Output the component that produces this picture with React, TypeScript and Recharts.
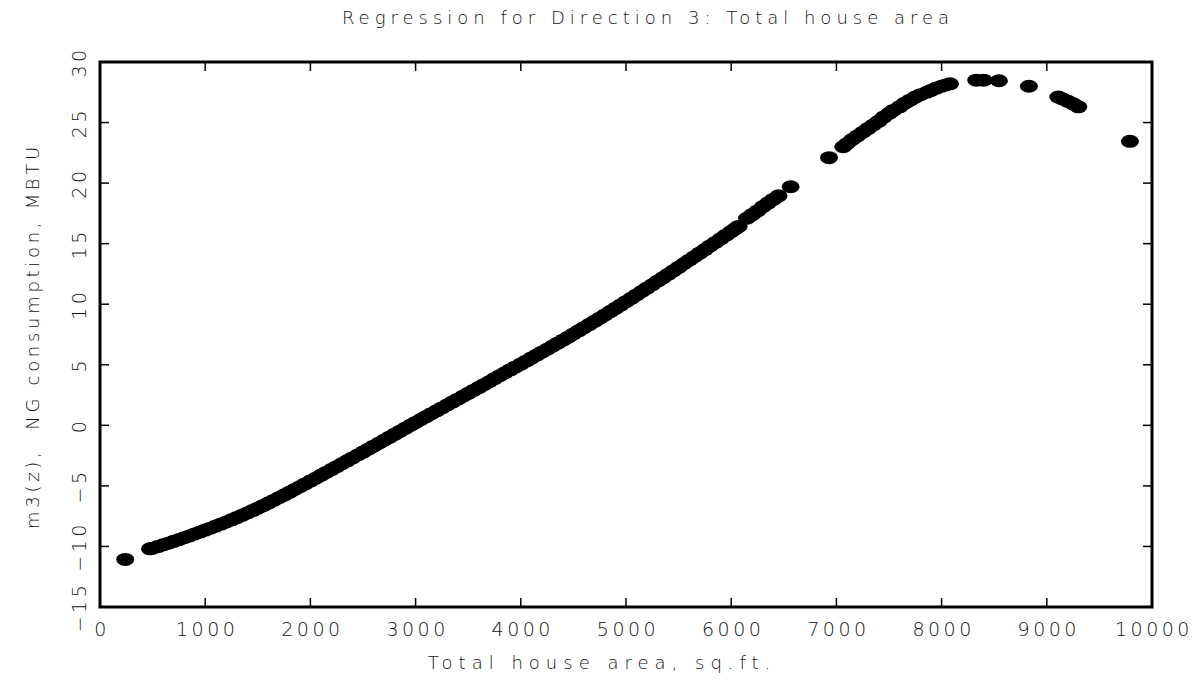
import React from 'react';
import { ScatterChart, Scatter, XAxis, YAxis, ReferenceArea } from 'recharts';

// readings: total house area (sq.ft.) vs m3(z) (MBTU)
const areaMain = [
  240, 475, 500, 550, 600, 650, 700, 750, 800, 850, 900, 950, 1000, 1050, 1100, 1150, 1200,
  1250, 1300, 1350, 1400, 1450, 1500, 1550, 1600, 1650, 1700, 1750, 1800, 1850, 1900, 1950,
  2000, 2050, 2100, 2150, 2200, 2250, 2300, 2350, 2400, 2450, 2500, 2550, 2600, 2650, 2700,
  2750, 2800, 2850, 2900, 2950, 3000, 3050, 3100, 3150, 3200, 3250, 3300, 3350, 3400, 3450,
  3500, 3550, 3600, 3650, 3700, 3750, 3800, 3850, 3900, 3950, 4000, 4050, 4100, 4150, 4200,
  4250, 4300, 4350, 4400, 4450, 4500, 4550, 4600, 4650, 4700, 4750, 4800, 4850, 4900, 4950,
  5000, 5050, 5100, 5150, 5200, 5250, 5300, 5350, 5400, 5450, 5500, 5550, 5600, 5650, 5700,
  5750, 5800, 5850, 5900, 5950, 6000, 6040, 6070,
];
const m3Main = [
  -11.07, -10.2, -10.15, -10.01, -9.87, -9.73, -9.58, -9.43, -9.28, -9.13, -8.97, -8.81, -8.65,
  -8.49, -8.32, -8.15, -7.98, -7.8, -7.62, -7.43, -7.24, -7.04, -6.84, -6.63, -6.42, -6.2,
  -5.98, -5.76, -5.53, -5.3, -5.07, -4.84, -4.6, -4.37, -4.13, -3.89, -3.65, -3.41, -3.17,
  -2.93, -2.69, -2.45, -2.21, -1.97, -1.72, -1.48, -1.23, -0.99, -0.74, -0.5, -0.25, 0.0,
  0.24, 0.48, 0.72, 0.96, 1.2, 1.44, 1.68, 1.92, 2.16, 2.4, 2.64, 2.88, 3.12, 3.36, 3.6, 3.85,
  4.1, 4.34, 4.58, 4.82, 5.06, 5.3, 5.55, 5.79, 6.04, 6.28, 6.53, 6.78, 7.03, 7.28, 7.54, 7.8,
  8.06, 8.32, 8.59, 8.85, 9.12, 9.39, 9.66, 9.93, 10.21, 10.49, 10.77, 11.05, 11.33, 11.61,
  11.9, 12.18, 12.47, 12.76, 13.05, 13.34, 13.63, 13.92, 14.22, 14.51, 14.81, 15.1, 15.4,
  15.7, 16.0, 16.24, 16.42,
];
const areaUpper = [
  6150, 6200, 6250, 6300, 6350, 6400, 6450, 6565, 6930, 7065, 7100, 7150, 7200, 7250, 7300,
  7350, 7400, 7450, 7500, 7540, 7600, 7650, 7700, 7750, 7800, 7860, 7900, 7950, 8000, 8040,
  8080, 8330, 8400, 8545, 8830, 9110, 9150, 9200, 9250, 9300, 9790,
];
const m3Upper = [
  17.1, 17.4, 17.7, 18.05, 18.35, 18.65, 18.95, 19.7, 22.1, 23.0, 23.25, 23.6, 23.9, 24.2,
  24.5, 24.8, 25.1, 25.45, 25.75, 26.0, 26.3, 26.6, 26.85, 27.1, 27.3, 27.5, 27.65, 27.85,
  28.0, 28.1, 28.2, 28.5, 28.5, 28.45, 28.0, 27.1, 26.95, 26.75, 26.55, 26.3, 23.45,
];

const xTicks = [0, 1000, 2000, 3000, 4000, 5000, 6000, 7000, 8000, 9000, 10000];
const yTicks = [-15, -10, -5, 0, 5, 10, 15, 20, 25, 30];

const data = [
  ...areaMain.map((a, i) => ({ area: a, m3: m3Main[i] })),
  ...areaUpper.map((a, i) => ({ area: a, m3: m3Upper[i] })),
];

const PLOT_W = 1052;
const PLOT_H = 545;
const TICK = 9;
const FONT = '"DejaVu Sans", sans-serif';
const TICK_FONT = { fontFamily: FONT, fontWeight: 200, fontSize: 19, letterSpacing: 3.5 };

const labelStyle = (ls: number): React.CSSProperties => ({
  fontFamily: FONT,
  fontWeight: 200,
  fontSize: 18,
  letterSpacing: ls,
  color: '#111',
  position: 'absolute',
  whiteSpace: 'pre',
  lineHeight: 1,
});

const fmt = (v: number) => (v < 0 ? '\u2212' + Math.abs(v) : String(v));

const XTick = (props: any) => {
  const { x, y, payload } = props;
  return (
    <g>
      <line x1={x} y1={y} x2={x} y2={y - TICK} stroke="#000" strokeWidth={1.5} />
      <line x1={x} y1={y - PLOT_H} x2={x} y2={y - PLOT_H + TICK} stroke="#000" strokeWidth={1.5} />
      <text x={x + 2} y={y + 22} textAnchor="middle" dominantBaseline="central" fill="#111" style={TICK_FONT}>
        {payload.value}
      </text>
    </g>
  );
};

const YTick = (props: any) => {
  const { x, y, payload } = props;
  const tx = x - 23;
  return (
    <g>
      <line x1={x} y1={y} x2={x + TICK} y2={y} stroke="#000" strokeWidth={1.5} />
      <line x1={x + PLOT_W} y1={y} x2={x + PLOT_W - TICK} y2={y} stroke="#000" strokeWidth={1.5} />
      <text
        x={tx}
        y={y + 2}
        transform={`rotate(-90 ${tx} ${y})`}
        textAnchor="middle"
        dominantBaseline="central"
        fill="#111"
        style={TICK_FONT}
      >
        {fmt(payload.value)}
      </text>
    </g>
  );
};

const Dot = (props: any) => <ellipse cx={props.cx} cy={props.cy} rx={9} ry={6.5} fill="#000" />;

export default function App() {
  return (
    <div style={{ position: 'relative', width: 1186, height: 665, background: '#fff' }}>
      <ScatterChart width={1186} height={665} margin={{ top: 54, right: 42, bottom: 0, left: 0 }}>
        <XAxis
          type="number"
          dataKey="area"
          domain={[0, 10000]}
          ticks={xTicks}
          height={66}
          axisLine={false}
          tickLine={false}
          tickSize={0}
          tickMargin={0}
          tick={<XTick />}
          interval={0}
        />
        <YAxis
          type="number"
          dataKey="m3"
          domain={[-15, 30]}
          ticks={yTicks}
          width={92}
          axisLine={false}
          tickLine={false}
          tickSize={0}
          tickMargin={0}
          tick={<YTick />}
          interval={0}
        />
        <Scatter data={data} shape={<Dot />} isAnimationActive={false} />
        <ReferenceArea
          x1={0}
          x2={10000}
          y1={-15}
          y2={30}
          fill="none"
          fillOpacity={0}
          stroke="#000"
          strokeWidth={3}
          ifOverflow="visible"
        />
      </ScatterChart>
      <div style={{ ...labelStyle(5), left: 640, top: 10, transform: 'translate(-50%, -50%)' }}>
        Regression for Direction 3: Total house area
      </div>
      <div style={{ ...labelStyle(6), left: 594, top: 655, transform: 'translate(-50%, -50%)' }}>
        Total house area, sq.ft.
      </div>
      <div
        style={{
          ...labelStyle(3.7),
          left: 25,
          top: 328,
          transform: 'translate(-50%, -50%) rotate(-90deg)',
        }}
      >
        {'m3(z),  NG consumption, MBTU'}
      </div>
    </div>
  );
}
